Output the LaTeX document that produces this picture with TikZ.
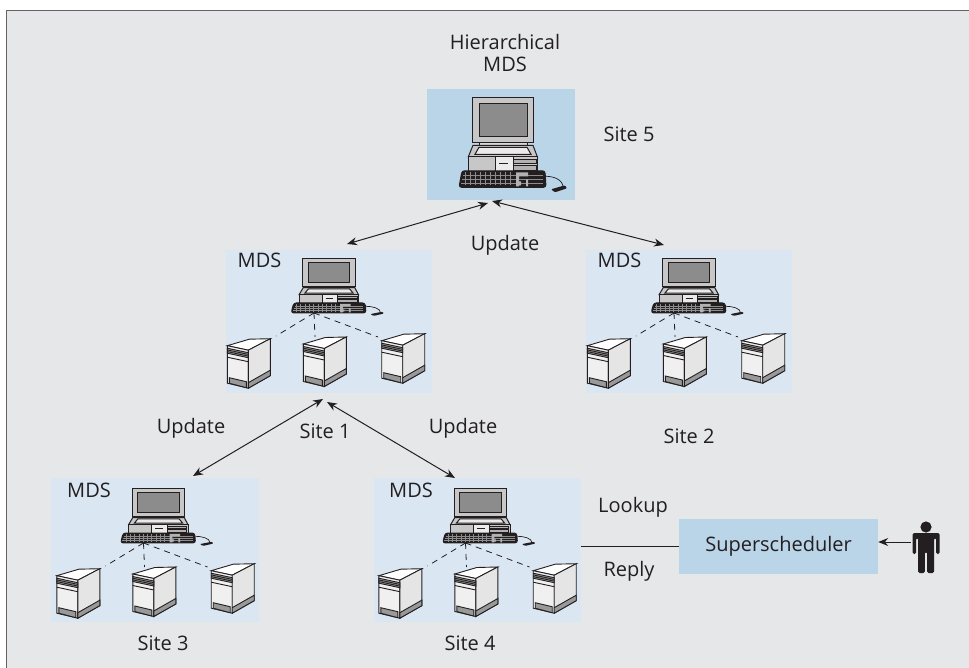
\documentclass[tikz,border=0pt]{standalone}
\usepackage{fontspec}
\setmainfont{Open Sans}
\usepackage{xcolor}
\usetikzlibrary{positioning,calc,arrows.meta}
\definecolor{frameBg}{HTML}{E6E7E9}
\definecolor{paneDark}{HTML}{BAD4E8}
\definecolor{paneLight}{HTML}{DAE6F2}
\definecolor{inkLine}{HTML}{231F20}
\tikzset{
  siteLabel/.style={font=\fontsize{20}{22}\selectfont, text=inkLine, inner sep=0pt, align=center},
  panelBox/.style={fill=paneLight, inner sep=0pt, anchor=north west},
  schedBox/.style={fill=paneDark, siteLabel, minimum width=199pt, minimum height=55pt},
  arrowLine/.style={{Stealth[length=10pt,width=8pt]}-{Stealth[length=10pt,width=8pt]}, draw=inkLine, line width=1pt},
  dashLine/.style={dashed, dash pattern=on 6pt off 5pt, draw=inkLine, line width=0.8pt},
  workstation/.pic={
    \begin{scope}[draw=inkLine, line width=1pt]
      % monitor
      \draw[fill=black!22] (-30.3,-46) rectangle (30.3,-0.7);
      \draw[fill=black!45] (-24,-39.3) rectangle (24,-6.7);
      \draw[fill=black!15] (-24,-0.7) rectangle (24,4);
      % case
      \draw[fill=black!22] (-30,2) -- (30,2) -- (34.3,13.5) -- (-34.7,13.5) -- cycle;
      \draw[fill=black!8] (-24,4) -- (24,4) -- (28,11) -- (-28,11) -- cycle;
      \draw[fill=black!22] (-34.7,13.5) rectangle (34.3,28);
      \draw[fill=black!8] (-8,13.5) rectangle (10,28);
      \draw[line width=0.9pt] (-4,20) -- (5,20);
      \draw[fill=black!30] (10,16) rectangle (33,20);
      \draw[fill=black!30] (10,22) rectangle (33,27);
      % keyboard
      \draw[fill=inkLine, rounded corners=2.5pt] (-41,27.5) -- (42,27.5) -- (43,44) -- (-44,44) -- cycle;
      \foreach \keyx in {-38,-33,...,10}
        \draw[black!45, line width=0.3pt] (\keyx,29) -- (\keyx,42);
      \draw[black!45, line width=0.3pt] (-40,32) -- (40,32) (-41,36) -- (40,36) (-42,40) -- (40,40);
      \fill[black!30] (13,29) rectangle (25,33) (13,33) rectangle (16,43) (16,38) rectangle (18,42) (23,36) rectangle (25,43);
      % mouse
      \draw[line width=0.7pt] (43,33) .. controls (50,33) and (60,36) .. (60,44);
      \fill[inkLine, rounded corners=1pt] (48,46) -- (62,42) -- (64,45) -- (52,49) -- cycle;
    \end{scope}
  },
  tower/.pic={
    \begin{scope}[draw=inkLine, line width=0.9pt]
      \draw[fill=white] (-21,-16) -- (1,-22.5) -- (22,-23) -- (0,-11.5) -- cycle;
      \draw[fill=black!6] (-21,-16) -- (0,-11.5) -- (0,26.5) -- (-21,21.5) -- cycle;
      \draw[fill=black!10] (0,-11.5) -- (22,-23) -- (22,14) -- (0,26.5) -- cycle;
      \draw[fill=black!40] (0,21) -- (22,8.5) -- (22,14) -- (0,26.5) -- cycle;
      \draw[fill=black!40] (-19,16) -- (-2,20) -- (-2,26) -- (-19,21.5) -- cycle;
      \draw[fill=black!40] (-21,-13.5) -- (0,-9) -- (0,-4) -- (-21,-8.5) -- cycle;
      \draw (-21,-11.8) -- (0,-7.3) (-21,-10.1) -- (0,-5.6) (-21,-4.5) -- (0,0);
    \end{scope}
  },
  mdsSite/.pic={
    \pic[xscale=0.86, yscale=0.6] at (103,36.5) {workstation};
    \pic at (22.3,111.7) {tower};
    \pic at (98.3,110) {tower};
    \pic at (176.7,106.7) {tower};
    \node[siteLabel] (-mds) at (33.5,10.5) {MDS};
    \coordinate (-hub) at (88,63);
    \coordinate (-srv1) at (50,86);
    \coordinate (-srv2) at (89,87);
    \coordinate (-srv3) at (152,87);
    \draw[dashLine] (-hub) -- (-srv1);
    \draw[dashLine] (-hub) -- (-srv2);
    \draw[dashLine] (-hub) -- (-srv3);
  },
  personIcon/.pic={
    \fill[inkLine] (0,-15) circle (5.6);
    \fill[inkLine, rounded corners=1.5pt] (-13.5,-9) -- (13.5,-9) -- (13.5,12) -- (10,12) -- (10,-4) -- (8,-4) -- (8,31) -- (1.2,31) -- (1.2,10) -- (-1.2,10) -- (-1.2,31) -- (-8,31) -- (-8,-4) -- (-10,-4) -- (-10,12) -- (-13.5,12) -- cycle;
  }
}
\begin{document}
\begin{tikzpicture}[x=1pt,y=-1pt]
  \useasboundingbox (0,0) rectangle (969,668);
  \path[fill=white] (0,0) rectangle (969,668);
  \path[fill=frameBg] (6,10) rectangle (969,668);
  \draw[draw=inkLine!70, line width=1pt] (6.5,668) -- (6.5,10.5) -- (969,10.5);

  % top site
  \node[panelBox, fill=paneDark, minimum width=148pt, minimum height=111pt] (topPanel) at (427,89) {};
  \pic at (503,143.3) {workstation};
  \node[siteLabel] (hierLabel) at (505,53) {Hierarchical\\MDS};
  \node[siteLabel] (site5) at (629,134) {Site 5};

  % lower sites
  \node[panelBox, minimum width=206pt, minimum height=143pt] (panelA) at (226,250) {};
  \node[panelBox, minimum width=206pt, minimum height=143pt] (panelB) at (586,250) {};
  \node[panelBox, minimum width=208pt, minimum height=144pt] (panelC) at (51,478) {};
  \node[panelBox, minimum width=207pt, minimum height=144pt] (panelD) at (374,478) {};
  \pic (siteA) at (226,250) {mdsSite};
  \pic (siteB) at (586,250) {mdsSite};
  \pic (siteC) at (55.5,480) {mdsSite};
  \pic (siteD) at (377.5,480) {mdsSite};

  \node[siteLabel] (site1) at (325,431) {Site 1};
  \node[siteLabel] (site2) at (689,436) {Site 2};
  \node[siteLabel] (site3) at (163,643) {Site 3};
  \node[siteLabel] (site4) at (470,643) {Site 4};

  % update arrows
  \coordinate (topLeft) at (488,203);
  \coordinate (topRight) at (492,201);
  \coordinate (midLeft) at (323,399);
  \coordinate (midRight) at (327,402);
  \coordinate (leftEnd) at (347,244);
  \coordinate (rightEnd) at (664,245);
  \coordinate (lowLeft) at (193,476);
  \coordinate (lowRight) at (455,478);
  \draw[arrowLine] (topLeft) -- (leftEnd);
  \draw[arrowLine] (topRight) -- (rightEnd);
  \draw[arrowLine] (midLeft) -- (lowLeft);
  \draw[arrowLine] (midRight) -- (lowRight);
  \node[siteLabel] (updateTop) at (505,245) {Update};
  \node[siteLabel] (updateLeft) at (191,428) {Update};
  \node[siteLabel] (updateRight) at (463,428) {Update};

  % superscheduler
  \node[schedBox] (sched) at (778.5,546.5) {Superscheduler};
  \draw[draw=inkLine, line width=1pt] (panelD.east |- sched) -- (sched);
  \node[siteLabel] (lookup) at (633,507) {Lookup};
  \node[siteLabel] (reply) at (629,571) {Reply};
  \node[minimum width=29pt, minimum height=20pt, inner sep=0pt] (person) at (926,542) {};
  \pic at (person.center) {personIcon};
  \draw[{Stealth[length=10pt,width=8pt]}-, draw=inkLine, line width=1pt] (sched.east |- person) -- (person);
\end{tikzpicture}
\end{document}
